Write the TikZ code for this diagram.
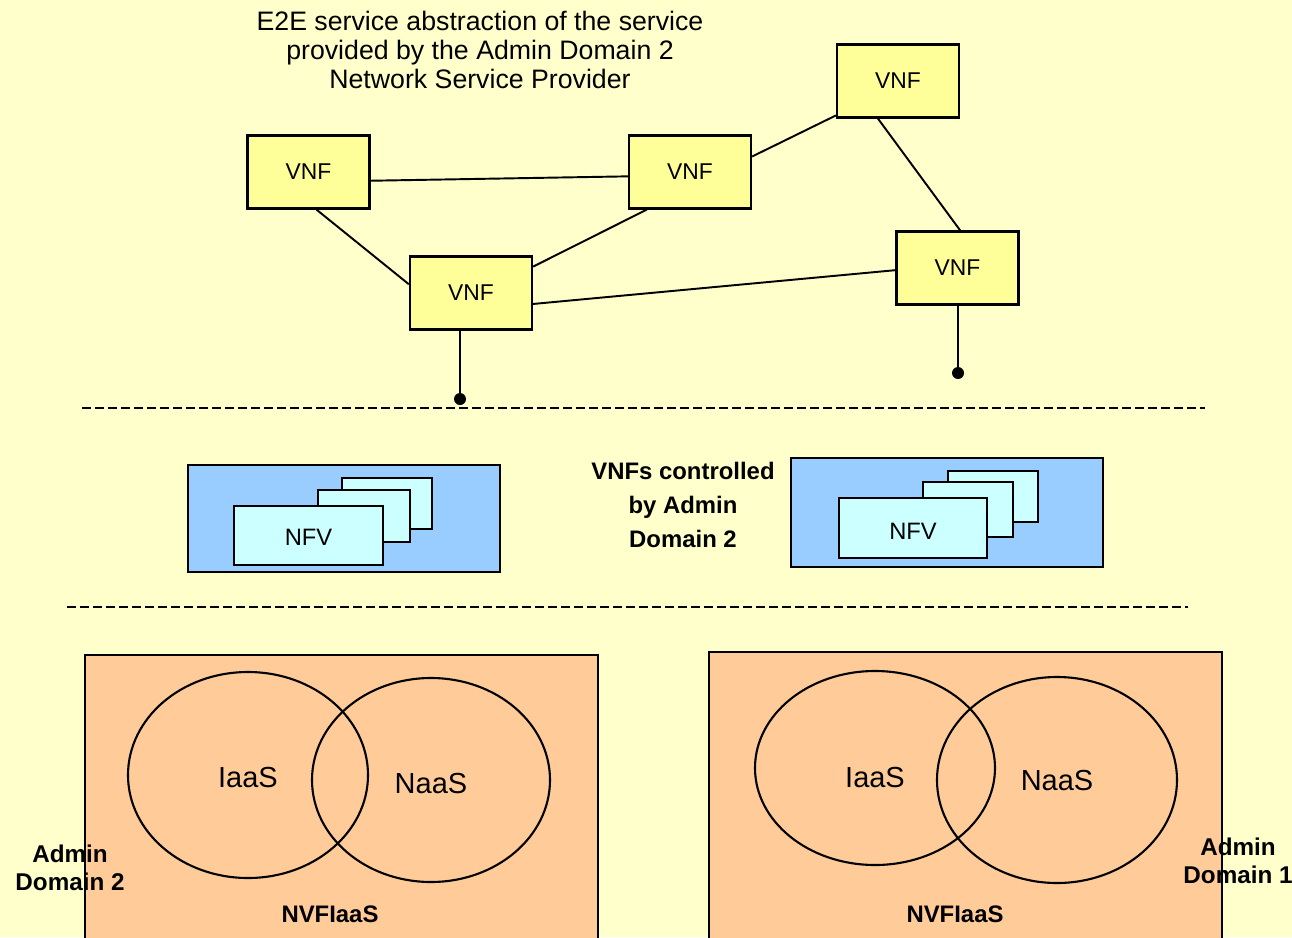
\documentclass[tikz,border=0pt]{standalone}
\usepackage{fontspec}
\setmainfont{Liberation Sans}
\usetikzlibrary{calc}
\definecolor{bgy}{HTML}{FFFFCC}
\definecolor{vnfy}{HTML}{FFFF99}
\definecolor{blu}{HTML}{99CCFF}
\definecolor{cya}{HTML}{CCFFFF}
\definecolor{ora}{HTML}{FFCC99}
\tikzset{
  vnf/.style={draw=black, line width=1.3pt, fill=vnfy, minimum width=2.44cm, minimum height=1.46cm, inner sep=0pt, font=\fontsize{13}{15}\selectfont},
  link/.style={line width=1.1pt},
  sep/.style={line width=1.5pt, dash pattern=on 5pt off 2.4pt},
  card/.style={draw=black, line width=1.3pt, fill=cya},
  panel/.style={draw=black, line width=1.3pt, fill=blu},
  dom/.style={draw=black, line width=1.3pt, fill=ora},
  circ/.style={line width=1.2pt},
  lbl/.style={font=\bfseries\fontsize{13.6}{19.5}\selectfont, align=center, inner sep=0pt},
  big/.style={font=\fontsize{16.5}{19}\selectfont, inner sep=0pt},
  nfvt/.style={font=\fontsize{13.5}{15}\selectfont, inner sep=0pt},
  tdot/.style={circle, fill=black, inner sep=0pt, minimum size=0.24cm},
}
\begin{document}
\begin{tikzpicture}[x=0.02cm,y=-0.02cm]
\useasboundingbox (0,0) rectangle (1292,937);
\clip (0,0) rectangle (1292,937);
\fill[bgy] (0,0) rectangle (1292,937);

% title
\node[align=center, font=\fontsize{15.2}{16.5}\selectfont, inner sep=0pt] (title) at (480,50)
  {E2E service abstraction of the service\\provided by the Admin Domain 2\\Network Service Provider};

% VNFs
\node[vnf] (A) at (308.5,172) {VNF};
\node[vnf] (B) at (690,172) {VNF};
\node[vnf] (C) at (898,81) {VNF};
\node[vnf] (D) at (471,293) {VNF};
\node[vnf] (E) at (957.5,268) {VNF};

\draw[link] (A.-8) -- (B.184);
\draw[link] (A.-78) -- (D.172);
\draw[link] (D.23) -- (B.221);
\draw[link] (B.14) -- (C.209);
\draw[link] (C.242) -- (E.86);
\draw[link] (D.-10) -- (E.182);

% terminals
\coordinate (t1) at (460,399);
\coordinate (t2) at (958,373);
\draw[link] (D.south -| t1) -- (t1);
\draw[link] (E.south -| t2) -- (t2);
\node[tdot] (d1) at (t1) {};
\node[tdot] (d2) at (t2) {};

% separators
\coordinate (s1a) at (82,408);
\coordinate (s1b) at (1205,408);
\coordinate (s2a) at (67,607);
\coordinate (s2b) at (1188,607);
\draw[sep] (s1a) -- (s1b);
\draw[sep] (s2a) -- (s2b);

% blue panels
\draw[panel] (188,465) rectangle (500,572);
\draw[card] (342,478) rectangle (432,529);
\draw[card] (318,490) rectangle (410,542);
\draw[card] (234,506) rectangle (383,565);
\node[nfvt] (nfv1) at (308.5,537) {NFV};

\draw[panel] (791,458) rectangle (1103,567);
\draw[card] (948,471) rectangle (1038,522);
\draw[card] (923,482) rectangle (1013,537);
\draw[card] (839,498) rectangle (987,558);
\node[nfvt] (nfv2) at (913,531) {NFV};

\node[lbl] (ctl) at (683,505) {VNFs controlled\\by Admin\\Domain 2};

% domains
\draw[dom] (85,950) -- (85,655) -- (598,655) -- (598,950);
\draw[dom] (709,950) -- (709,652) -- (1222,652) -- (1222,950);

\draw[circ] (248,775) ellipse [x radius=120, y radius=103];
\draw[circ] (431,780) ellipse [x radius=119, y radius=102];
\draw[circ] (875,768) ellipse [x radius=120, y radius=97];
\draw[circ] (1057,780) ellipse [x radius=120, y radius=103];

\node[big] (i1) at (248,778) {IaaS};
\node[big] (n1) at (431,784) {NaaS};
\node[big] (i2) at (875,778) {IaaS};
\node[big] (n2) at (1057,781) {NaaS};

\node[lbl] (nv1) at (330,914) {NVFIaaS};
\node[lbl] (nv2) at (955,914) {NVFIaaS};

\node[lbl, font=\bfseries\fontsize{13.8}{16}\selectfont] (ad2) at (70,868) {Admin\\Domain 2};
\node[lbl, font=\bfseries\fontsize{13.8}{16}\selectfont] (ad1) at (1238,861) {Admin\\Domain 1};
\end{tikzpicture}
\end{document}
